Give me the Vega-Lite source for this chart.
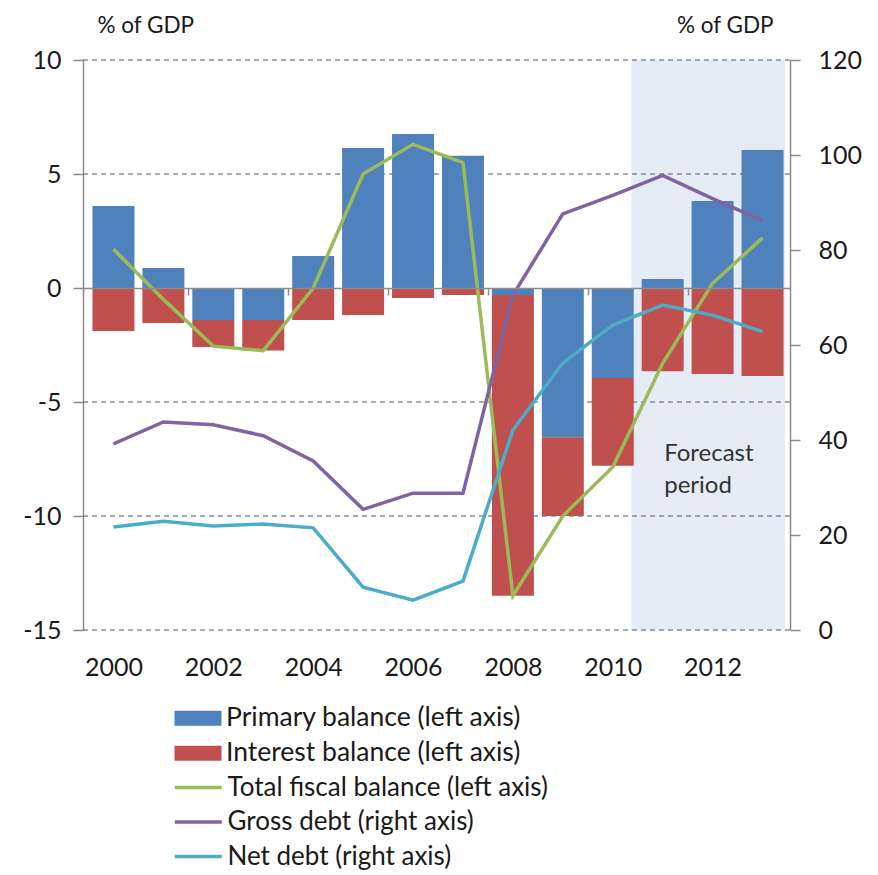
{
  "$schema": "https://vega.github.io/schema/vega-lite/v6.json",
  "width": 707,
  "height": 570,
  "autosize": "none",
  "padding": {"left": 83, "top": 60, "right": 88, "bottom": 245},
  "config": {
    "view": {"stroke": null},
    "font": "Lato",
    "axis": {"labelFont": "Lato", "titleFont": "Lato", "labelColor": "#1a1a1a", "titleColor": "#1a1a1a"},
    "legend": {"labelFont": "Lato"}
  },
  "datasets": {
    "bars": [
      {"year": 2000, "series": "Primary balance (left axis)", "value": 3.6},
      {"year": 2001, "series": "Primary balance (left axis)", "value": 0.88},
      {"year": 2002, "series": "Primary balance (left axis)", "value": -1.4},
      {"year": 2003, "series": "Primary balance (left axis)", "value": -1.4},
      {"year": 2004, "series": "Primary balance (left axis)", "value": 1.4},
      {"year": 2005, "series": "Primary balance (left axis)", "value": 6.14},
      {"year": 2006, "series": "Primary balance (left axis)", "value": 6.75},
      {"year": 2007, "series": "Primary balance (left axis)", "value": 5.8},
      {"year": 2008, "series": "Primary balance (left axis)", "value": -0.31},
      {"year": 2009, "series": "Primary balance (left axis)", "value": -6.55},
      {"year": 2010, "series": "Primary balance (left axis)", "value": -3.95},
      {"year": 2011, "series": "Primary balance (left axis)", "value": 0.39},
      {"year": 2012, "series": "Primary balance (left axis)", "value": 3.82},
      {"year": 2013, "series": "Primary balance (left axis)", "value": 6.05},
      {"year": 2000, "series": "Interest balance (left axis)", "value": -1.89},
      {"year": 2001, "series": "Interest balance (left axis)", "value": -1.54},
      {"year": 2002, "series": "Interest balance (left axis)", "value": -1.19},
      {"year": 2003, "series": "Interest balance (left axis)", "value": -1.34},
      {"year": 2004, "series": "Interest balance (left axis)", "value": -1.4},
      {"year": 2005, "series": "Interest balance (left axis)", "value": -1.18},
      {"year": 2006, "series": "Interest balance (left axis)", "value": -0.44},
      {"year": 2007, "series": "Interest balance (left axis)", "value": -0.31},
      {"year": 2008, "series": "Interest balance (left axis)", "value": -13.19},
      {"year": 2009, "series": "Interest balance (left axis)", "value": -3.45},
      {"year": 2010, "series": "Interest balance (left axis)", "value": -3.85},
      {"year": 2011, "series": "Interest balance (left axis)", "value": -3.65},
      {"year": 2012, "series": "Interest balance (left axis)", "value": -3.77},
      {"year": 2013, "series": "Interest balance (left axis)", "value": -3.86}
    ],
    "balance": [
      {"year": 2000, "series": "Total fiscal balance (left axis)", "value": 1.7},
      {"year": 2001, "series": "Total fiscal balance (left axis)", "value": -0.5},
      {"year": 2002, "series": "Total fiscal balance (left axis)", "value": -2.55},
      {"year": 2003, "series": "Total fiscal balance (left axis)", "value": -2.75},
      {"year": 2004, "series": "Total fiscal balance (left axis)", "value": 0.0},
      {"year": 2005, "series": "Total fiscal balance (left axis)", "value": 5.0},
      {"year": 2006, "series": "Total fiscal balance (left axis)", "value": 6.3},
      {"year": 2007, "series": "Total fiscal balance (left axis)", "value": 5.5},
      {"year": 2008, "series": "Total fiscal balance (left axis)", "value": -13.5},
      {"year": 2009, "series": "Total fiscal balance (left axis)", "value": -10.0},
      {"year": 2010, "series": "Total fiscal balance (left axis)", "value": -7.85},
      {"year": 2011, "series": "Total fiscal balance (left axis)", "value": -3.3},
      {"year": 2012, "series": "Total fiscal balance (left axis)", "value": 0.2},
      {"year": 2013, "series": "Total fiscal balance (left axis)", "value": 2.2}
    ],
    "debt": [
      {"year": 2000, "series": "Gross debt (right axis)", "value": 39.2},
      {"year": 2001, "series": "Gross debt (right axis)", "value": 43.8},
      {"year": 2002, "series": "Gross debt (right axis)", "value": 43.2},
      {"year": 2003, "series": "Gross debt (right axis)", "value": 40.9},
      {"year": 2004, "series": "Gross debt (right axis)", "value": 35.6},
      {"year": 2005, "series": "Gross debt (right axis)", "value": 25.4},
      {"year": 2006, "series": "Gross debt (right axis)", "value": 28.8},
      {"year": 2007, "series": "Gross debt (right axis)", "value": 28.8},
      {"year": 2008, "series": "Gross debt (right axis)", "value": 70.5},
      {"year": 2009, "series": "Gross debt (right axis)", "value": 87.6},
      {"year": 2010, "series": "Gross debt (right axis)", "value": 91.5},
      {"year": 2011, "series": "Gross debt (right axis)", "value": 95.7},
      {"year": 2012, "series": "Gross debt (right axis)", "value": 90.8},
      {"year": 2013, "series": "Gross debt (right axis)", "value": 86.2},
      {"year": 2000, "series": "Net debt (right axis)", "value": 21.7},
      {"year": 2001, "series": "Net debt (right axis)", "value": 22.9},
      {"year": 2002, "series": "Net debt (right axis)", "value": 21.9},
      {"year": 2003, "series": "Net debt (right axis)", "value": 22.3},
      {"year": 2004, "series": "Net debt (right axis)", "value": 21.5},
      {"year": 2005, "series": "Net debt (right axis)", "value": 9.0},
      {"year": 2006, "series": "Net debt (right axis)", "value": 6.3},
      {"year": 2007, "series": "Net debt (right axis)", "value": 10.3},
      {"year": 2008, "series": "Net debt (right axis)", "value": 42.1},
      {"year": 2009, "series": "Net debt (right axis)", "value": 56.2},
      {"year": 2010, "series": "Net debt (right axis)", "value": 64.2},
      {"year": 2011, "series": "Net debt (right axis)", "value": 68.4},
      {"year": 2012, "series": "Net debt (right axis)", "value": 66.3},
      {"year": 2013, "series": "Net debt (right axis)", "value": 62.8}
    ],
    "gridlevels": [
      {"level": 10}, {"level": 5}, {"level": -5}, {"level": -10}, {"level": -15}
    ]
  },
  "layer": [
    {
      "data": {"values": [{}]},
      "mark": {"type": "rect", "color": "#e6ecf6"},
      "encoding": {
        "x": {"datum": 2010.375, "type": "quantitative", "scale": {"domain": [1999.49, 2013.45], "nice": false, "zero": false}, "axis": null},
        "x2": {"datum": 2013.45},
        "y": {"datum": 10, "type": "quantitative", "scale": {"domain": [-15, 10], "nice": false, "zero": false}, "axis": null},
        "y2": {"datum": -15}
      }
    },
    {
      "data": {"name": "gridlevels"},
      "mark": {"type": "rule", "color": "#4d5868", "strokeWidth": 1.2, "strokeDash": [5, 4]},
      "encoding": {
        "y": {"field": "level", "type": "quantitative", "scale": {"domain": [-15, 10], "nice": false, "zero": false}, "axis": null}
      }
    },
    {
      "data": {"name": "bars"},
      "mark": {"type": "bar", "size": 42, "orient": "vertical"},
      "encoding": {
        "x": {
          "field": "year", "type": "quantitative",
          "scale": {"domain": [1999.49, 2013.45], "nice": false, "zero": false},
          "axis": {
            "orient": "bottom", "values": [2000, 2002, 2004, 2006, 2008, 2010, 2012],
            "format": "d", "domain": false, "ticks": false, "grid": false,
            "labelFontSize": 25, "labelPadding": 25, "title": null
          }
        },
        "y": {
          "field": "value", "type": "quantitative", "stack": "zero",
          "scale": {"domain": [-15, 10], "nice": false, "zero": false},
          "axis": {
            "orient": "left", "values": [-15, -10, -5, 0, 5, 10],
            "labelExpr": "'' + datum.value",
            "domain": true, "domainColor": "#8c8c8c", "domainWidth": 1.5,
            "ticks": true, "tickSize": 10, "tickColor": "#8c8c8c", "tickWidth": 1.5,
            "grid": false, "labelFontSize": 25, "labelPadding": 12,
            "title": "% of GDP", "titleAngle": 0, "titleAlign": "left", "titleBaseline": "middle",
            "titleX": 14, "titleY": -35, "titleFontSize": 22.5, "titleFontWeight": "normal"
          }
        },
        "fill": {
          "field": "series", "type": "nominal",
          "scale": {"domain": ["Primary balance (left axis)", "Interest balance (left axis)"], "range": ["#4f81bd", "#c0504d"]},
          "legend": {
            "orient": "none", "legendX": 101.75, "legendY": 645, "title": null,
            "symbolType": "M-2,-0.64L2,-0.64L2,0.64L-2,0.64Z", "symbolSize": 552,
            "symbolStrokeWidth": 0, "labelFontSize": 26.5, "labelColor": "#1a1a1a",
            "labelOffset": 14.75, "rowPadding": 8, "labelLimit": 600
          }
        },
        "order": {"field": "series", "sort": "descending"}
      }
    },
    {
      "data": {"name": "balance"},
      "mark": {"type": "line", "strokeWidth": 3.5},
      "encoding": {
        "x": {"field": "year", "type": "quantitative", "scale": {"domain": [1999.49, 2013.45], "nice": false, "zero": false}, "axis": null},
        "y": {"field": "value", "type": "quantitative", "scale": {"domain": [-15, 10], "nice": false, "zero": false}, "axis": null},
        "stroke": {
          "field": "series", "type": "nominal",
          "scale": {"domain": ["Total fiscal balance (left axis)", "Gross debt (right axis)", "Net debt (right axis)"], "range": ["#9bbb59", "#8064a2", "#4bacc6"]},
          "legend": {
            "orient": "none", "legendX": 101.75, "legendY": 714, "title": null,
            "symbolType": "M-2,0L2,0", "symbolSize": 552, "symbolStrokeWidth": 3.5,
            "labelFontSize": 26, "labelColor": "#1a1a1a",
            "labelOffset": 15.75, "rowPadding": 7.5, "labelLimit": 600
          }
        }
      }
    },
    {
      "data": {"values": [{}]},
      "mark": {"type": "text", "text": ["Forecast", "period"], "align": "left", "baseline": "top", "fontSize": 24, "lineHeight": 32, "color": "#333333", "font": "Lato"},
      "encoding": {
        "x": {"datum": 2011.03, "type": "quantitative", "scale": {"domain": [1999.49, 2013.45], "nice": false, "zero": false}, "axis": null},
        "y": {"datum": -6.75, "type": "quantitative", "scale": {"domain": [-15, 10], "nice": false, "zero": false}, "axis": null}
      }
    },
    {
      "data": {"name": "debt"},
      "mark": {"type": "line", "strokeWidth": 3.5},
      "encoding": {
        "x": {
          "field": "year", "type": "quantitative",
          "scale": {"domain": [1999.49, 2013.45], "nice": false, "zero": false},
          "axis": {
            "orient": "bottom", "offset": -342, "values": [2001.5, 2003.5, 2005.5, 2007.5, 2009.5, 2011.5],
            "labels": false, "domain": true, "domainColor": "#8c8c8c", "domainWidth": 1.5,
            "ticks": true, "tickSize": 7, "tickColor": "#8c8c8c", "tickWidth": 1.5,
            "grid": false, "title": null, "zindex": 1
          }
        },
        "y": {
          "field": "value", "type": "quantitative",
          "scale": {"domain": [0, 120], "nice": false, "zero": false},
          "axis": {
            "orient": "right", "values": [0, 20, 40, 60, 80, 100, 120],
            "domain": true, "domainColor": "#8c8c8c", "domainWidth": 1.5,
            "ticks": true, "tickSize": 10, "tickColor": "#8c8c8c", "tickWidth": 1.5,
            "grid": false, "labelFontSize": 25, "labelPadding": 18,
            "title": "% of GDP", "titleAngle": 0, "titleAlign": "right", "titleBaseline": "middle",
            "titleX": -17, "titleY": -35, "titleFontSize": 22.5, "titleFontWeight": "normal"
          }
        },
        "stroke": {
          "field": "series", "type": "nominal",
          "scale": {"domain": ["Total fiscal balance (left axis)", "Gross debt (right axis)", "Net debt (right axis)"], "range": ["#9bbb59", "#8064a2", "#4bacc6"]},
          "legend": {
            "orient": "none", "legendX": 101.75, "legendY": 714, "title": null,
            "symbolType": "M-2,0L2,0", "symbolSize": 552, "symbolStrokeWidth": 3.5,
            "labelFontSize": 26, "labelColor": "#1a1a1a",
            "labelOffset": 15.75, "rowPadding": 7.5, "labelLimit": 600
          }
        }
      }
    }
  ],
  "resolve": {"scale": {"y": "independent"}, "axis": {"x": "independent"}}
}
